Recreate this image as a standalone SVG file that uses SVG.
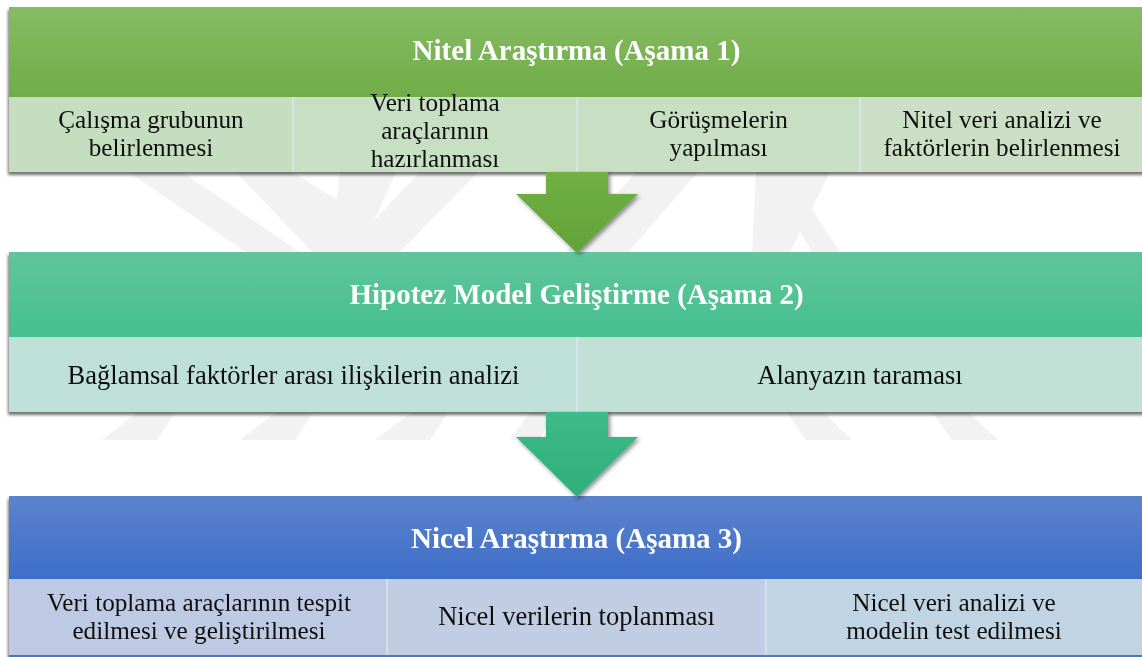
<svg xmlns="http://www.w3.org/2000/svg" width="1142" height="657" viewBox="0 0 1142 657">
  <style>
    .hdr { font-family: "Liberation Serif", "Times New Roman", serif; font-weight: bold; font-size: 29px; fill: #ffffff; text-anchor: middle; }
    .sub { font-family: "Liberation Serif", "Times New Roman", serif; font-size: 26.5px; fill: #111111; text-anchor: middle; }
    .sub2 { font-family: "Liberation Serif", "Times New Roman", serif; font-size: 25.2px; fill: #111111; text-anchor: middle; }
    .div { stroke: #dde6ef; stroke-width: 1.5; }
    .wm { fill: #f2f2f2; }
  </style>
  <defs>
    <linearGradient id="g1" x1="0" y1="0" x2="0" y2="1">
      <stop offset="0" stop-color="#86bb64"/>
      <stop offset="1" stop-color="#70ad47"/>
    </linearGradient>
    <linearGradient id="g2" x1="0" y1="0" x2="0" y2="1">
      <stop offset="0" stop-color="#61c59c"/>
      <stop offset="1" stop-color="#45bf8e"/>
    </linearGradient>
    <linearGradient id="g3" x1="0" y1="0" x2="0" y2="1">
      <stop offset="0" stop-color="#5c83cc"/>
      <stop offset="1" stop-color="#3e6ec8"/>
    </linearGradient>
    <linearGradient id="a1" x1="0" y1="0" x2="0" y2="1">
      <stop offset="0" stop-color="#70b043"/>
      <stop offset="1" stop-color="#63a23a"/>
    </linearGradient>
    <linearGradient id="a2" x1="0" y1="0" x2="0" y2="1">
      <stop offset="0" stop-color="#3cbb88"/>
      <stop offset="1" stop-color="#2fae7e"/>
    </linearGradient>
    <filter id="shadow" x="-5%" y="-10%" width="110%" height="130%">
      <feDropShadow dx="-1" dy="3" stdDeviation="1.6" flood-color="#000000" flood-opacity="0.55"/>
    </filter>
    <filter id="ashadow" x="-20%" y="-20%" width="140%" height="140%">
      <feDropShadow dx="2" dy="2" stdDeviation="2" flood-color="#000000" flood-opacity="0.45"/>
    </filter>
  </defs>

  <rect x="0" y="0" width="1142" height="657" fill="#ffffff"/>

  <!-- faint background emblem -->
  <g id="emblem">
    <polygon class="wm" points="128,172 182,172 300,252 246,252"/>
    <polygon class="wm" points="236,172 292,172 346,205 342,252 312,252"/>
    <polygon class="wm" points="340,172 396,172 360,252 330,252"/>
    <polygon class="wm" points="420,172 478,172 400,252 344,252"/>
    <polygon class="wm" points="636,172 698,172 628,252 566,252"/>
    <polygon class="wm" points="756,172 830,172 790,252 752,252"/>
    <polygon class="wm" points="790,215 806,200 840,252 812,252"/>
    <polygon class="wm" points="138,412 175,412 157,440 102,440"/>
    <polygon class="wm" points="276,412 313,412 295,440 240,440"/>
    <polygon class="wm" points="412,412 448,412 430,440 375,440"/>
    <polygon class="wm" points="530,412 553,412 540,440 510,440"/>
    <polygon class="wm" points="787,412 823,412 852,440 806,440"/>
    <polygon class="wm" points="932,412 968,412 998,440 952,440"/>
  </g>

  <!-- Stage 1 -->
  <g id="stage1" filter="url(#shadow)">
    <rect x="9" y="7" width="1140" height="90" fill="url(#g1)"/>
    <rect x="9" y="97" width="284" height="75" fill="#c5dec0"/>
    <rect x="293" y="97" width="284" height="75" fill="#c7dfc3"/>
    <rect x="577" y="97" width="283" height="75" fill="#c8dfc3"/>
    <rect x="860" y="97" width="289" height="75" fill="#cadfc5"/>
    <line class="div" x1="293" y1="97" x2="293" y2="172"/>
    <line class="div" x1="577" y1="97" x2="577" y2="172"/>
    <line class="div" x1="860" y1="97" x2="860" y2="172"/>
    <text class="hdr" x="576.5" y="60">Nitel Araştırma (Aşama 1)</text>
    <text class="sub2" x="151" y="127.5">Çalışma grubunun<tspan x="151" dy="28">belirlenmesi</tspan></text>
    <text class="sub2" x="435" y="111">Veri toplama<tspan x="435" dy="28">araçlarının</tspan><tspan x="435" dy="28">hazırlanması</tspan></text>
    <text class="sub2" x="718.5" y="127.5">Görüşmelerin<tspan x="718.5" dy="28">yapılması</tspan></text>
    <text class="sub2" x="1002" y="127.5">Nitel veri analizi ve<tspan x="1002" dy="28">faktörlerin belirlenmesi</tspan></text>
  </g>

  <!-- Stage 2 -->
  <g id="stage2" filter="url(#shadow)">
    <rect x="9" y="252" width="1140" height="85" fill="url(#g2)"/>
    <rect x="9" y="337" width="568" height="75" fill="#bfe0d8"/>
    <rect x="577" y="337" width="572" height="75" fill="#c1e1d7"/>
    <line class="div" x1="577" y1="337" x2="577" y2="412"/>
    <text class="hdr" x="576.5" y="304">Hipotez Model Geliştirme (Aşama 2)</text>
    <text class="sub" x="293.5" y="384">Bağlamsal faktörler arası ilişkilerin analizi</text>
    <text class="sub" x="860" y="384">Alanyazın taraması</text>
  </g>

  <!-- Stage 3 -->
  <g id="stage3" filter="url(#shadow)">
    <rect x="9" y="496" width="1140" height="83" fill="url(#g3)"/>
    <rect x="9" y="579" width="378" height="76" fill="#bec9e3"/>
    <rect x="387" y="579" width="379" height="76" fill="#c0cde3"/>
    <rect x="766" y="579" width="383" height="76" fill="#c1d4e3"/>
    <rect x="9" y="655" width="1140" height="4" fill="#4a76c9"/>
    <line class="div" x1="387" y1="579" x2="387" y2="655"/>
    <line class="div" x1="766" y1="579" x2="766" y2="655"/>
    <text class="hdr" x="576.5" y="548">Nicel Araştırma (Aşama 3)</text>
    <text class="sub2" x="199" y="610.5">Veri toplama araçlarının tespit<tspan x="199" dy="28">edilmesi ve geliştirilmesi</tspan></text>
    <text class="sub" x="576.5" y="625">Nicel verilerin toplanması</text>
    <text class="sub2" x="954" y="610.5">Nicel veri analizi ve<tspan x="954" dy="28">modelin test edilmesi</tspan></text>
  </g>

  <!-- Flow arrows between stages -->
  <g id="connectors">
    <path filter="url(#ashadow)" fill="url(#a1)" d="M546,172 L608,172 L608,194 L638,194 L577,253 L516,194 L546,194 Z"/>
    <path filter="url(#ashadow)" fill="url(#a2)" d="M546,412 L608,412 L608,437 L638,437 L577,497 L516,437 L546,437 Z"/>
  </g>
</svg>
